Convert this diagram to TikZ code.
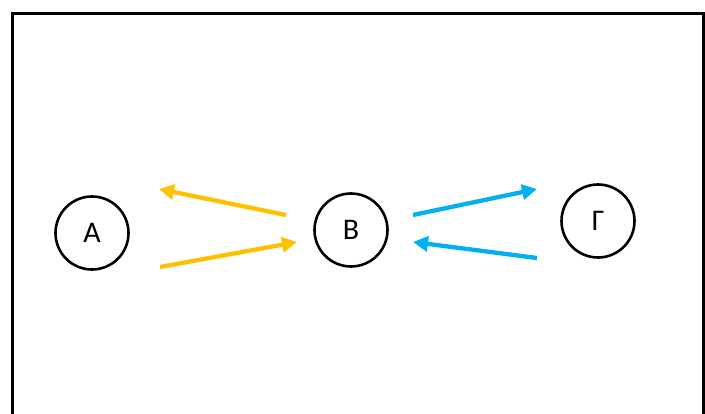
\documentclass[tikz,border=0pt]{standalone}
\usepackage{fontspec}
\setmainfont{Carlito}
\usetikzlibrary{arrows.meta}
\definecolor{amber}{HTML}{FFC000}
\definecolor{skyblue}{HTML}{00B0F0}
\tikzset{
  state/.style={circle, draw=black, line width=2.6pt, minimum size=73pt, inner sep=0pt,
    font=\fontsize{30}{34}\selectfont},
  flow/.style={line width=4.3pt, -{Triangle[length=15pt,width=15pt]}},
}
\begin{document}
\begin{tikzpicture}[x=1pt,y=-1pt]
  \useasboundingbox (0,0) rectangle (705,414);
  \clip (0,0) rectangle (705,414);
  % outer frame, running past the lower edge
  \draw[line width=3pt] (12,14) rectangle (703,430);

  \node[state] (a) at (92,233) {Α};
  \node[state] (b) at (351,230) {Β};
  \node[state] (g) at (598,221) {Γ};

  % arrow end points between the states
  \coordinate (ab1) at (286,215);
  \coordinate (ab2) at (159,189);
  \coordinate (ab3) at (160,267);
  \coordinate (ab4) at (297,242);
  \coordinate (bg1) at (413,215);
  \coordinate (bg2) at (537,189);
  \coordinate (bg3) at (537,258);
  \coordinate (bg4) at (413,242);

  \draw[flow, amber] (ab1) -- (ab2);
  \draw[flow, amber] (ab3) -- (ab4);
  \draw[flow, skyblue] (bg1) -- (bg2);
  \draw[flow, skyblue] (bg3) -- (bg4);
\end{tikzpicture}
\end{document}
